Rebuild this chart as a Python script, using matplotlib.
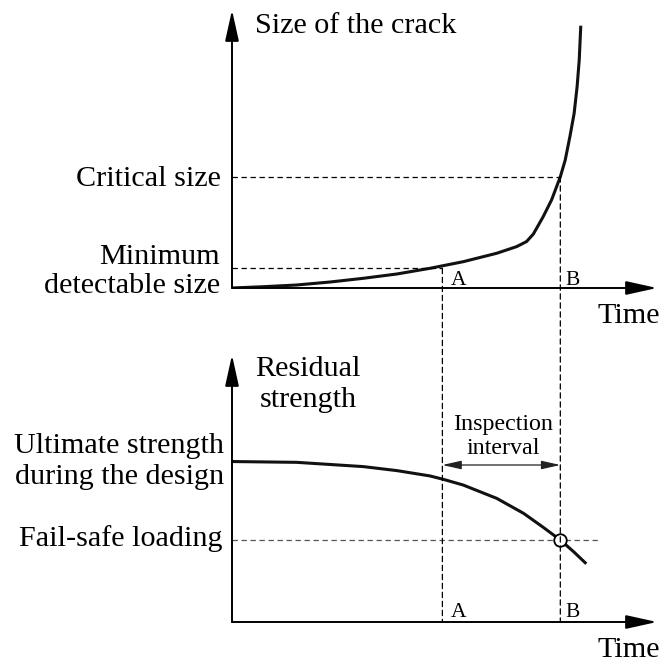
import matplotlib
matplotlib.use("Agg")
import matplotlib.pyplot as plt
from matplotlib.patches import ConnectionPatch

plt.rcParams['font.family'] = ['Liberation Serif', 'DejaVu Serif']

# times of the two inspections (same time axis in both panels)
t_a = 49.5
t_b = 77.25

# crack growth curve (top panel)
crack_t = [0, 7.4, 15.2, 23.1, 30.9, 38.8, 46.6, 54.4, 62.3, 67.0, 69.3, 70.9, 73.2, 75.2,
           77.25, 78.4, 79.5, 80.5, 81.2, 81.7, 82.05]
crack_s = [0, 0.47, 1.08, 2.16, 3.49, 5.04, 7.09, 9.46, 12.5, 14.9, 16.7, 19.4, 25.6, 31.7,
           40.0, 46.0, 54.4, 62.8, 72.4, 82.0, 93.8]
critical_size = 40.0
min_detect = 7.1

# residual strength curve (bottom panel)
res_t = [0, 15.2, 30.9, 38.8, 46.6, 49.8, 54.4, 62.3, 68.6, 73.2, 77.25, 80.4, 83.1]
res_s = [60.1, 59.8, 58.2, 56.7, 54.7, 53.4, 51.3, 46.3, 40.7, 35.5, 30.7, 26.3, 22.2]
fail_safe = 30.7
fail_safe_end = 86.6
interval_level = 58.8

FS = 21.7
dash = (0, (4.3, 2.9))

fig = plt.figure(figsize=(6.66, 6.66), dpi=100)
ax1 = fig.add_axes([232 / 666, 1 - 288 / 666, 425 / 666, 278 / 666])
ax2 = fig.add_axes([232 / 666, 1 - 622 / 666, 425 / 666, 267 / 666])

for ax in (ax1, ax2):
    ax.set_xlim(0, 100)
    ax.set_ylim(0, 100)
    ax.axis('off')
    head = dict(arrowstyle='-|>,head_length=1.9,head_width=0.42', lw=1.4, color='black',
                shrinkA=0, shrinkB=0, mutation_scale=10)
    ax.annotate('', xy=(100, 0), xytext=(0, 0), arrowprops=head)
    ax.annotate('', xy=(0, 100), xytext=(0, 0), arrowprops=head)

# top panel
ax1.plot(crack_t, crack_s, color='#111111', lw=2.2, solid_joinstyle='round')
ax1.plot([0, t_b], [critical_size, critical_size], color='black', lw=0.9, ls=dash)
ax1.plot([0, t_a], [min_detect, min_detect], color='black', lw=0.9, ls=dash)

ax1.text(5.4, 91.7, 'Size of the crack', fontsize=FS, ha='left', va='baseline')
ax1.text(-2.6, 36.7, 'Critical size', fontsize=FS, ha='right', va='baseline')
ax1.text(-2.8, -1.8, 'Minimum\ndetectable size', fontsize=FS, ha='right', va='baseline',
         multialignment='right', linespacing=1.14)
ax1.text(85.9, -12.6, 'Time', fontsize=FS, ha='left', va='baseline')
ax1.text(t_a + 2.0, 1.1, 'A', fontsize=15.5, ha='left', va='baseline')
ax1.text(t_b + 1.3, 1.1, 'B', fontsize=15.5, ha='left', va='baseline')

# bottom panel
ax2.plot(res_t, res_s, color='#111111', lw=2.2, solid_joinstyle='round')
ax2.plot([0, fail_safe_end], [fail_safe, fail_safe], color='#555555', lw=0.9, ls=dash)
ax2.plot([t_b], [fail_safe], marker='o', ms=9, mfc='white', mec='black', mew=1.3)
ax2.annotate('', xy=(t_b, interval_level), xytext=(t_a, interval_level),
             arrowprops=dict(arrowstyle='<|-|>,head_length=1.15,head_width=0.26', lw=0.9,
                             color='#222222', shrinkA=0, shrinkB=0, mutation_scale=10))

ax2.text(17.9, 80.5, 'Residual\nstrength', fontsize=FS, ha='center', va='baseline',
         multialignment='center', linespacing=1.24)
ax2.text(-1.9, 51.7, 'Ultimate strength\nduring the design', fontsize=FS, ha='right',
         va='baseline', multialignment='right', linespacing=1.24)
ax2.text(-2.35, 28.5, 'Fail-safe loading', fontsize=FS, ha='right', va='baseline')
ax2.text(63.8, 62.9, 'Inspection\ninterval', fontsize=17.3, ha='center', va='baseline',
         multialignment='center', linespacing=1.19)
ax2.text(85.9, -13.1, 'Time', fontsize=FS, ha='left', va='baseline')
ax2.text(t_a + 2.0, 1.9, 'A', fontsize=15.5, ha='left', va='baseline')
ax2.text(t_b + 1.3, 1.9, 'B', fontsize=15.5, ha='left', va='baseline')

# dashed verticals running through both panels
for t, top in ((t_a, min_detect), (t_b, critical_size)):
    con = ConnectionPatch(xyA=(t, top), coordsA=ax1.transData, xyB=(t, 0), coordsB=ax2.transData,
                          color='black', lw=0.9, ls=dash)
    fig.add_artist(con)

fig.savefig('out.png', dpi=100)
